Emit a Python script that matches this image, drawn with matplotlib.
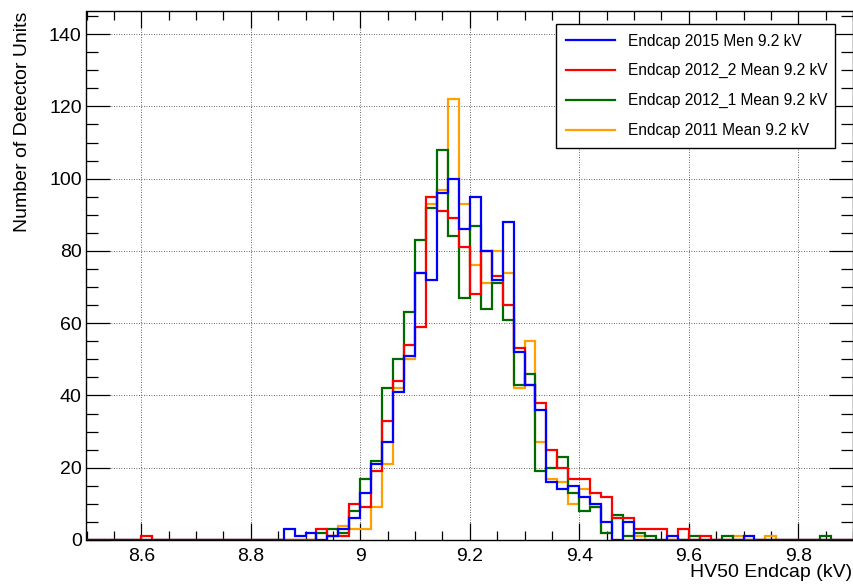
import numpy as np
import matplotlib
matplotlib.use('Agg')
import matplotlib.pyplot as plt
import matplotlib.ticker as mticker
from matplotlib.lines import Line2D

plt.rcParams['font.family'] = ['Liberation Sans', 'DejaVu Sans']

# 70 bins of 0.02 kV between 8.5 and 9.9
bin_edges = np.round(np.arange(8.5, 9.9001, 0.02), 2)

# counts per bin
endcap_2015 = [0, 0, 0, 0, 0, 0, 0, 0, 0, 0,
               0, 0, 0, 0, 0, 0, 0, 0, 3, 1,
               2, 0, 1, 3, 6, 13, 21, 27, 41, 51,
               74, 72, 96, 100, 86, 95, 80, 72, 88, 52,
               43, 36, 16, 14, 15, 12, 10, 5, 0, 5,
               0, 0, 0, 1, 0, 0, 0, 0, 0, 0,
               1, 0, 0, 0, 0, 0, 0, 0, 0, 0]

endcap_2012_2 = [0, 0, 0, 0, 0, 1, 0, 0, 0, 0,
                 0, 0, 0, 0, 0, 0, 0, 0, 0, 0,
                 0, 3, 1, 1, 10, 9, 19, 33, 44, 54,
                 59, 95, 91, 89, 81, 68, 80, 73, 65, 53,
                 43, 38, 25, 20, 17, 17, 13, 12, 6, 6,
                 3, 3, 3, 0, 3, 0, 1, 0, 0, 0,
                 0, 0, 0, 0, 0, 0, 0, 0, 0, 0]

endcap_2012_1 = [0, 0, 0, 0, 0, 0, 0, 0, 0, 0,
                 0, 0, 0, 0, 0, 0, 0, 0, 0, 0,
                 0, 2, 3, 2, 8, 17, 22, 42, 50, 63,
                 83, 92, 108, 84, 67, 87, 64, 71, 61, 43,
                 46, 19, 20, 23, 13, 8, 9, 2, 7, 1,
                 2, 1, 0, 0, 0, 1, 0, 0, 1, 0,
                 0, 0, 0, 0, 0, 0, 0, 1, 0, 0]

endcap_2011 = [0, 0, 0, 0, 0, 0, 0, 0, 0, 0,
               0, 0, 0, 0, 0, 0, 0, 0, 0, 0,
               0, 0, 1, 4, 3, 3, 9, 21, 42, 50,
               74, 93, 97, 122, 93, 76, 71, 80, 74, 42,
               55, 27, 17, 16, 10, 14, 9, 2, 0, 0,
               1, 0, 0, 0, 0, 0, 0, 0, 0, 1,
               0, 0, 1, 0, 0, 0, 0, 0, 0, 0]

labels = ['Endcap 2015 Men 9.2 kV', 'Endcap 2012_2 Mean 9.2 kV',
          'Endcap 2012_1 Mean 9.2 kV', 'Endcap 2011 Mean 9.2 kV']
colors = ['#0000ff', '#ff0000', '#006a00', '#ffa000']
series = [endcap_2015, endcap_2012_2, endcap_2012_1, endcap_2011]

x_major = [8.6, 8.8, 9.0, 9.2, 9.4, 9.6, 9.8]


fig = plt.figure(figsize=(8.54, 5.85), dpi=100)
ax = fig.add_axes([86.5 / 854, 45 / 585, 766.5 / 854, 529 / 585])

# draw oldest first so 2015 ends up on top
for vals, col in reversed(list(zip(series, colors))):
    ax.stairs(vals, bin_edges, color=col, lw=1.6, zorder=3)

ax.set_xlim(8.5, 9.9)
ax.set_ylim(0, 146.4)

ax.xaxis.set_major_locator(mticker.FixedLocator(x_major))
ax.xaxis.set_minor_locator(mticker.MultipleLocator(0.05))
ax.xaxis.set_major_formatter(mticker.FuncFormatter(lambda v, pos: '{:g}'.format(round(v, 2))))
ax.yaxis.set_major_locator(mticker.MultipleLocator(20))
ax.yaxis.set_minor_locator(mticker.MultipleLocator(5))

ax.tick_params(which='both', direction='in', top=True, right=True,
               labelsize=14, width=0.9, color='black')
ax.tick_params(axis='x', which='major', length=12.5, pad=5.5)
ax.tick_params(axis='x', which='minor', length=6.5)
ax.tick_params(axis='y', which='major', length=17, pad=3.5)
ax.tick_params(axis='y', which='minor', length=8.5)

for sp in ax.spines.values():
    sp.set_linewidth(1.0)
    sp.set_color('black')

ax.grid(True, which='major', color='black', linestyle=(0, (1, 2)), lw=0.6, alpha=0.8, zorder=0)

fig.text(0.026, 0.980, 'Number of Detector Units', rotation=90,
         ha='center', va='top', fontsize=14)
fig.text(0.998, 0.022, 'HV50 Endcap (kV)', ha='right', va='center', fontsize=14)

handles = [Line2D([], [], color=c, lw=1.6) for c in colors]
leg = ax.legend(handles, labels, loc='upper left',
                bbox_to_anchor=(0.613, 0.975, 0.364, 0.0), mode='expand',
                fontsize=11.2, frameon=True, fancybox=False, framealpha=1,
                edgecolor='black', borderpad=0.6, labelspacing=0.95,
                handlelength=3.2, handletextpad=0.8, borderaxespad=0)
leg.get_frame().set_linewidth(1.0)
leg.set_zorder(5)

fig.savefig('out.png', dpi=100, facecolor='white')
